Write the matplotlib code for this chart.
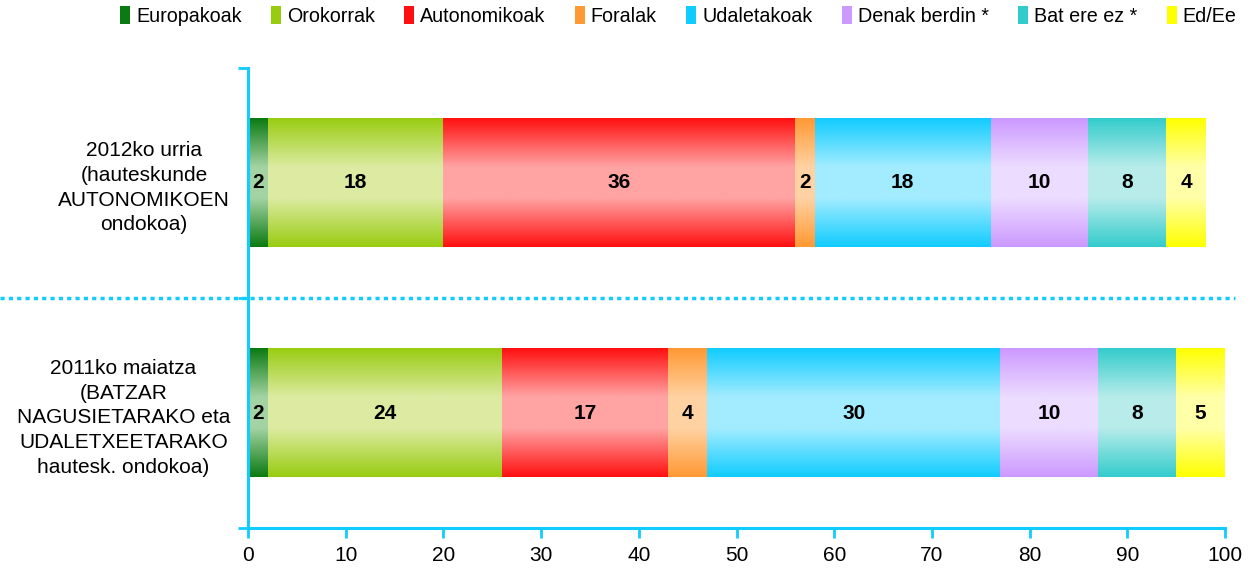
import matplotlib
matplotlib.use("Agg")
import matplotlib.pyplot as plt
import matplotlib.transforms as mtransforms
from matplotlib.colors import LinearSegmentedColormap
from matplotlib.patches import Patch
from matplotlib.lines import Line2D
import numpy as np

plt.rcParams['font.family'] = ['Liberation Sans', 'DejaVu Sans']

# datuak
categories = ["2011ko maiatza\n(BATZAR\nNAGUSIETARAKO eta\nUDALETXEETARAKO\nhautesk. ondokoa)",
              "2012ko urria\n(hauteskunde\nAUTONOMIKOEN\nondokoa)"]
series = ["Europakoak", "Orokorrak", "Autonomikoak", "Foralak",
          "Udaletakoak", "Denak berdin *", "Bat ere ez *", "Ed/Ee"]
values_2011 = [2, 24, 17, 4, 30, 10, 8, 5]
values_2012 = [2, 18, 36, 2, 18, 10, 8, 4]
x_ticks = [0, 10, 20, 30, 40, 50, 60, 70, 80, 90, 100]

# kolore ilunak (ertzak) eta argiak (erdia)
dark = ["#0b7a12", "#99cc11", "#ff1010", "#ff9933", "#11ccff", "#cc99ff", "#33cccc", "#ffff00"]
light = ["#a3d3a3", "#dcebA2", "#ffa3a3", "#ffd2a3", "#a3ecff", "#ecdcff", "#b8ecea", "#ffffa8"]

fig = plt.figure(figsize=(12.54, 5.68), dpi=100)
ax = fig.add_axes([0.1978, 0.0704, 0.7791, 0.8099])

bar_h = 0.56
grad = np.linspace(0, 1, 256).reshape(-1, 1)
rows = [values_2011, values_2012]
for yi, vals in enumerate(rows):
    left = 0
    for i, v in enumerate(vals):
        cmap = LinearSegmentedColormap.from_list(
            "g%d" % i, [(0, dark[i]), (0.38, light[i]), (0.62, light[i]), (1, dark[i])])
        ax.imshow(grad, cmap=cmap, aspect='auto', interpolation='bilinear',
                  extent=[left, left + v, yi - bar_h / 2, yi + bar_h / 2], zorder=2)
        ax.text(left + v / 2, yi, str(v), ha='center', va='center',
                fontsize=15, fontweight='bold', zorder=3)
        left += v

ax.set_xlim(0, 100)
ax.set_ylim(-0.5, 1.5)
ax.set_xticks(x_ticks)
ax.set_yticks([0, 1])
ax.set_yticklabels(categories, multialignment='center', fontsize=15, linespacing=1.38)
ax.set_yticks([-0.5, 0.5, 1.5], minor=True)
ax.tick_params(axis='y', which='major', length=0, pad=13)
ax.tick_params(axis='y', which='minor', length=7, width=2, color="#11ccff", direction='out')
ax.tick_params(axis='x', length=7, width=2, color="#11ccff", labelsize=15, pad=6)

for s in ['top', 'right']:
    ax.spines[s].set_visible(False)
for s in ['left', 'bottom']:
    ax.spines[s].set_color("#11ccff")
    ax.spines[s].set_linewidth(2.2)

# lerro puntuduna
tr = mtransforms.blended_transform_factory(fig.transFigure, ax.transData)
fig.add_artist(Line2D([0.0, 0.985], [0.5, 0.5], transform=tr, color="#11ccff",
                      linestyle=(0, (1.2, 1.2)), linewidth=2.5))

handles = [Patch(facecolor=dark[i], edgecolor='none') for i in range(len(series))]
leg = fig.legend(handles, series, loc='upper center', bbox_to_anchor=(0.541, 1.02), ncol=8,
                 frameon=False, fontsize=14.2, handlelength=0.5, handleheight=1.0,
                 handletextpad=0.3, columnspacing=1.5)

fig.savefig("out.png", dpi=100)
